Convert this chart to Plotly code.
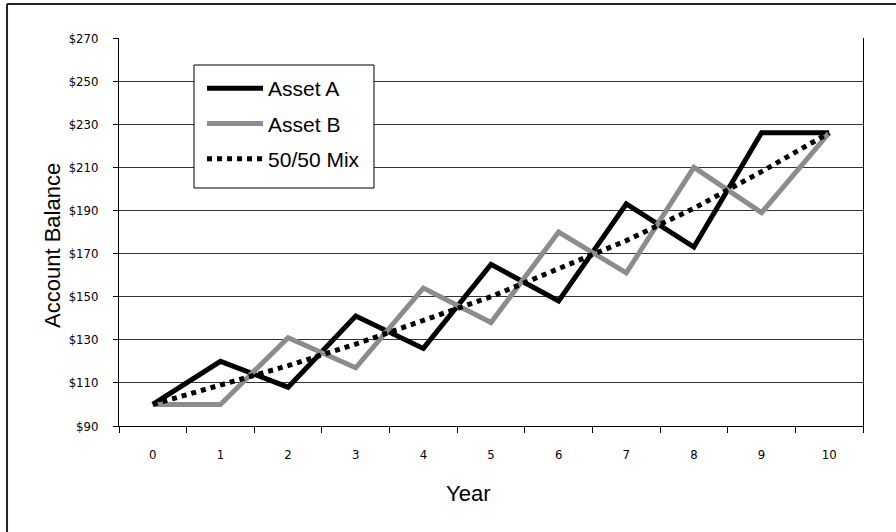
import plotly.graph_objects as go

years = ["0", "1", "2", "3", "4", "5", "6", "7", "8", "9", "10"]
asset_a = [100, 120, 108, 141, 126, 165, 148, 193, 173, 226, 226]
asset_b = [100, 100, 131, 117, 154, 138, 180, 161, 210, 189, 226]
mix_5050 = [100, 109, 118, 128, 139, 150, 163, 176, 191, 208, 226]
y_ticks = [90, 110, 130, 150, 170, 190, 210, 230, 250, 270]
y_tick_labels = ["$90", "$110", "$130", "$150", "$170", "$190", "$210", "$230", "$250", "$270"]

COND = "DejaVu Sans Condensed, Liberation Sans Narrow, Liberation Sans, Arial, sans-serif"
REG = "Liberation Sans, Arial, Helvetica, sans-serif"

fig = go.Figure()
fig.add_trace(go.Scatter(x=years, y=asset_a, mode="lines", name="Asset A",
                         legendgroup="a", line=dict(color="#000000", width=5)))
fig.add_trace(go.Scatter(x=years, y=asset_b, mode="lines", name="Asset B",
                         legendgroup="b", line=dict(color="#8c8c8c", width=5)))
fig.add_trace(go.Scatter(x=years, y=mix_5050, mode="lines", name="50/50 Mix",
                         legendgroup="m", line=dict(color="#000000", width=5, dash="dot")))

fig.update_layout(
    width=896, height=532,
    margin=dict(l=119, r=33, t=38, b=106),
    paper_bgcolor="white", plot_bgcolor="white",
    font=dict(family=REG, color="black", size=13),
    showlegend=True,
    legend=dict(x=0.1116, y=0.9227, xanchor="left", yanchor="top",
                bgcolor="rgba(0,0,0,0)", borderwidth=0,
                font=dict(family=REG, size=21, color="black"),
                itemwidth=56, traceorder="grouped", tracegroupgap=5),
    xaxis=dict(type="category", range=[-0.5, 10.5], showgrid=False,
               showline=True, linecolor="black", linewidth=1,
               ticks="outside", tickson="boundaries", ticklen=6,
               tickcolor="black", tickfont=dict(family=COND, size=13),
               ticklabelstandoff=16, zeroline=False),
    yaxis=dict(range=[90, 270], tickmode="array", tickvals=y_ticks,
               ticktext=y_tick_labels,
               showgrid=True, gridcolor="#333333", gridwidth=1,
               showline=True, mirror=True, linecolor="black", linewidth=1,
               ticks="outside", ticklen=5, tickcolor="black",
               tickfont=dict(family=COND, size=13),
               ticklabelstandoff=12, zeroline=False),
    annotations=[
        dict(text="Year", xref="paper", yref="paper", x=0.469, y=-0.175,
             showarrow=False, font=dict(family=REG, size=22, color="black"),
             xanchor="center", yanchor="middle"),
        dict(text="Account Balance", xref="paper", yref="paper", x=-0.0887, y=0.464,
             showarrow=False, textangle=-90,
             font=dict(family=REG, size=22, color="black"),
             xanchor="center", yanchor="middle"),
    ],
    shapes=[
        # outer frame (top and left edges visible)
        dict(type="line", xref="paper", yref="paper", x0=-0.1505, x1=1.05,
             y0=1.0876, y1=1.0876, line=dict(color="#222222", width=2)),
        dict(type="line", xref="paper", yref="paper", x0=-0.1505, x1=-0.1505,
             y0=1.0876, y1=-0.3, line=dict(color="#222222", width=2)),
        # legend box
        dict(type="rect", xref="paper", yref="paper", layer="above",
             x0=0.1008, x1=0.3427, y0=0.6134, y1=0.9304,
             fillcolor="white", line=dict(color="black", width=1)),
    ],
)

fig.write_html("out.html", config={"displayModeBar": False},
               post_script="document.body.style.margin='0';document.body.style.padding='0';")
